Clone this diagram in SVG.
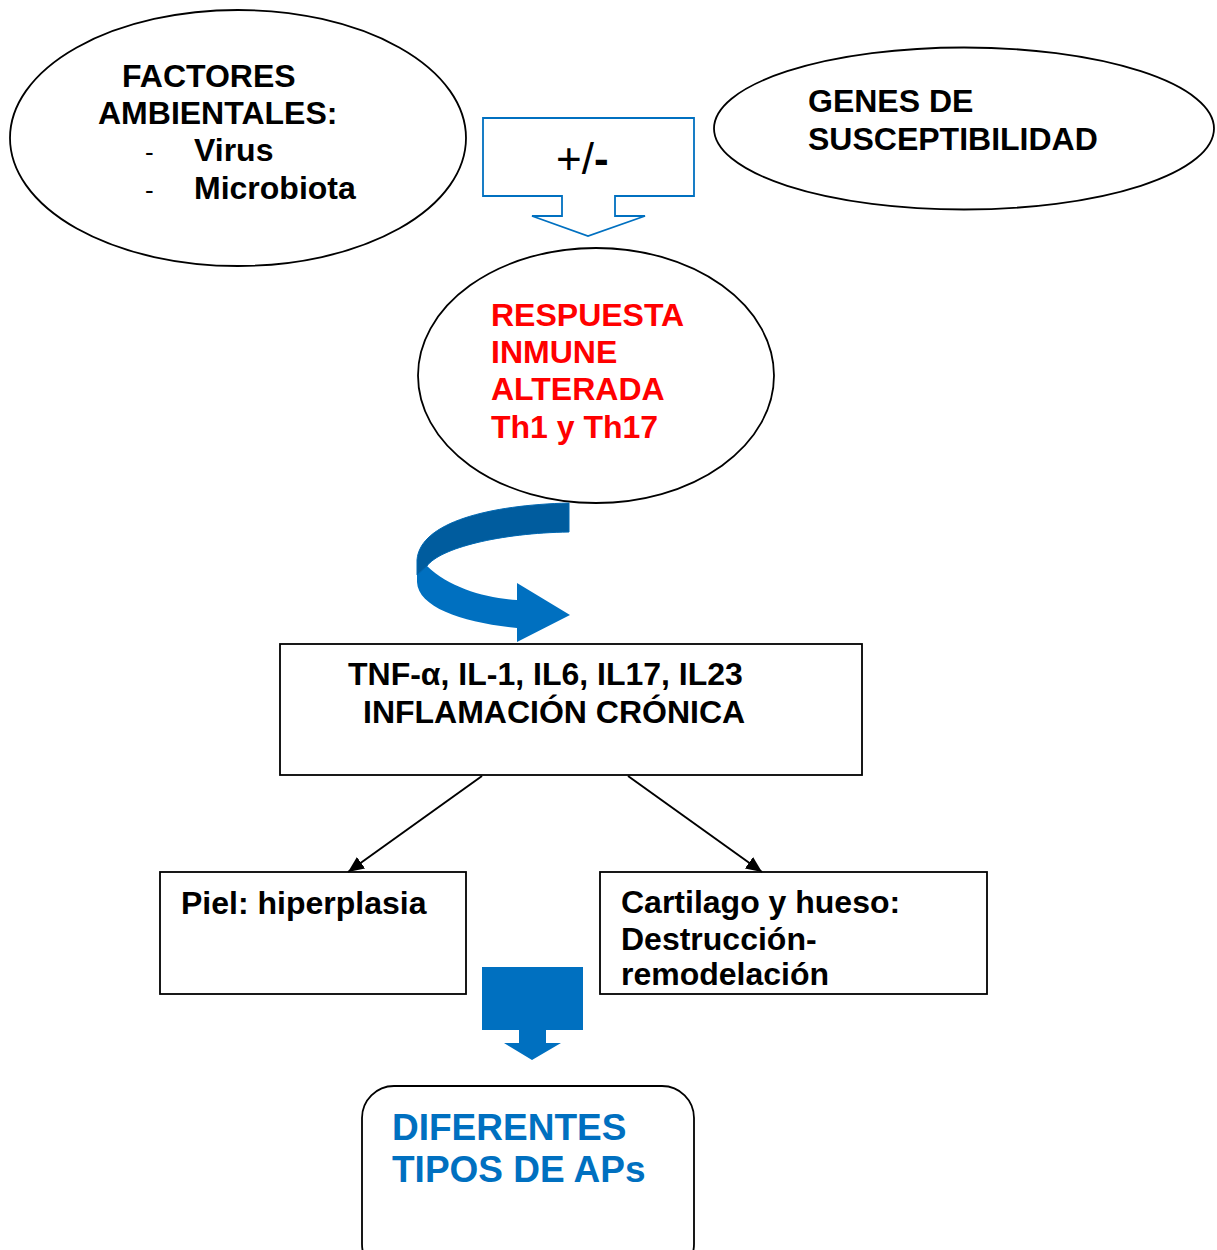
<svg xmlns="http://www.w3.org/2000/svg" width="1217" height="1250" viewBox="0 0 1217 1250">
<style>
.t{font-family:"Liberation Sans",Arial,sans-serif;font-weight:bold;font-size:32px;fill:#000}
.red{fill:#FF0000}
.blue{fill:#0070C0;font-size:37px}
.ol{fill:#fff;stroke:#000;stroke-width:1.8}
.cn{stroke:#000;stroke-width:2;fill:none}
</style>
<defs>
<marker id="ah" viewBox="0 0 16 14" refX="16" refY="7" markerWidth="16" markerHeight="14" markerUnits="userSpaceOnUse" orient="auto">
<path d="M0,0 L16,7 L0,14 Z" fill="#000"/>
</marker>
</defs>
<rect width="1217" height="1250" fill="#fff"/>

<g id="factores">
<ellipse class="ol" cx="238" cy="138" rx="228" ry="128"/>
<text class="t" x="122" y="86.5">FACTORES</text>
<text class="t" x="98" y="123.5">AMBIENTALES:</text>
<text class="t" x="145" y="161" style="font-weight:normal;font-size:26px">-</text>
<text class="t" x="194" y="161">Virus</text>
<text class="t" x="145" y="199" style="font-weight:normal;font-size:26px">-</text>
<text class="t" x="194" y="199">Microbiota</text>
</g>

<g id="genes">
<ellipse class="ol" cx="964" cy="128.5" rx="250" ry="81"/>
<text class="t" x="808" y="111.5">GENES DE</text>
<text class="t" x="808" y="149.5">SUSCEPTIBILIDAD</text>
</g>

<g id="masmenos">
<path d="M483,118 L694,118 L694,196 L615,196 L615,216 L645,216 L588,236 L532,216 L562,216 L562,196 L483,196 Z" fill="#fff" stroke="#0070C0" stroke-width="1.8"/>
<text x="556" y="174" style="font-family:'Liberation Sans',Arial,sans-serif;font-size:44px;fill:#000">+/<tspan font-weight="bold">-</tspan></text>
</g>

<g id="respuesta">
<ellipse class="ol" cx="596" cy="375.5" rx="178" ry="127.5"/>
<text class="t red" x="491" y="325.5">RESPUESTA</text>
<text class="t red" x="491" y="362.5">INMUNE</text>
<text class="t red" x="491" y="399.5">ALTERADA</text>
<text class="t red" x="491" y="437.5">Th1 y Th17</text>
</g>

<g id="curved-arrow">
<path d="M427,566 C450,588 485,598 517,600 L517,583 L570,615 L517,642 L517,628 C465,623 418,608 417,582 L417,566 Z" fill="#0070C0"/>
<path d="M569,503 L569,532 C500,533 440,548 427,566 L417,575 L417,560 C420,522 490,505 569,503 Z" fill="#005C9E" stroke="#0068B2" stroke-width="1"/>
</g>

<g id="tnf">
<rect class="ol" x="280" y="644" width="582" height="131"/>
<text class="t" x="348" y="684.5">TNF-α, IL-1, IL6, IL17, IL23</text>
<text class="t" x="363" y="722.5">INFLAMACIÓN CRÓNICA</text>
</g>

<g id="piel">
<rect class="ol" x="160" y="872" width="306" height="122"/>
<text class="t" x="181" y="913.5">Piel: hiperplasia</text>
</g>

<g id="cartilago">
<rect class="ol" x="600" y="872" width="387" height="122"/>
<text class="t" x="621" y="912.5">Cartilago y hueso:</text>
<text class="t" x="621" y="949.5">Destrucción-</text>
<text class="t" x="621" y="984.5">remodelación</text>
</g>

<g id="down-arrow">
<path d="M482,967 L583,967 L583,1030 L546,1030 L546,1043 L561,1043 L532,1060 L504,1043 L519,1043 L519,1030 L482,1030 Z" fill="#0070C0"/>
</g>

<g id="diferentes">
<rect class="ol" x="362" y="1086" width="332" height="190" rx="32" ry="32"/>
<text class="t blue" x="392" y="1140">DIFERENTES</text>
<text class="t blue" x="392" y="1182">TIPOS DE APs</text>
</g>

<g id="connectors">
<line class="cn" x1="482" y1="776" x2="348" y2="872" marker-end="url(#ah)"/>
<line class="cn" x1="628" y1="776" x2="762" y2="872" marker-end="url(#ah)"/>
</g>
</svg>
